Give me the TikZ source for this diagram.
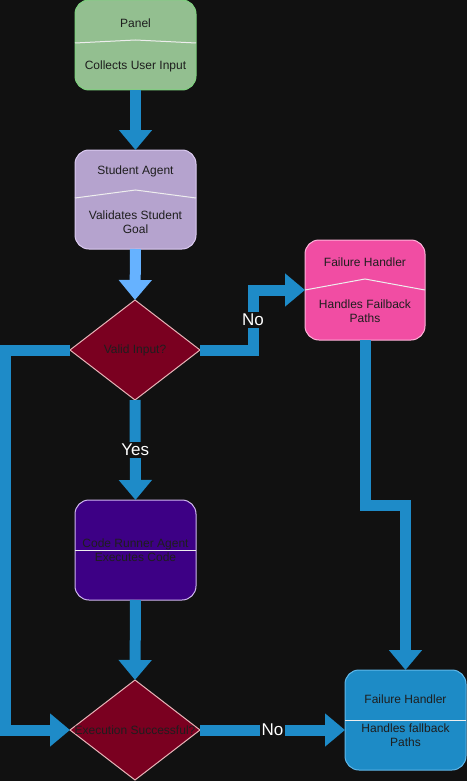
\documentclass[tikz,border=0pt]{standalone}
\usepackage{fontspec}
\setmainfont{Liberation Sans}
\usetikzlibrary{arrows.meta,shapes.geometric}
\definecolor{bg}{HTML}{111111}
\definecolor{gfill}{HTML}{93BF90}
\definecolor{gdraw}{HTML}{7FD27F}
\definecolor{lfill}{HTML}{B5A3CE}
\definecolor{ldraw}{HTML}{DCCBF2}
\definecolor{crim}{HTML}{7A0020}
\definecolor{crimb}{HTML}{E8B4B8}
\definecolor{pfill}{HTML}{F14DA3}
\definecolor{pdraw}{HTML}{FFB3D9}
\definecolor{ifill}{HTML}{3D0085}
\definecolor{idraw}{HTML}{D0B8F0}
\definecolor{bfill}{HTML}{1D8BC6}
\definecolor{bdraw}{HTML}{5FB8EA}
\definecolor{arrb}{HTML}{1E8BC8}
\definecolor{lblue}{HTML}{66B2FF}
\definecolor{txtc}{HTML}{1E1E1E}
\definecolor{divc}{HTML}{EEEEEE}
\begin{document}
\begin{tikzpicture}[x=1pt,y=-1pt,
  box/.style={rounded corners=14pt, line width=1pt, minimum width=121pt, minimum height=100pt, inner sep=0pt, outer sep=0pt},
  dia/.style={diamond, minimum width=130pt, minimum height=100pt, inner sep=0pt, outer sep=0pt, line width=1pt, fill=crim, draw=crimb},
  txt/.style={font=\fontsize{12}{14}\selectfont, text=txtc, align=center, inner sep=0pt},
  blk/.style={line width=11pt, draw=arrb, -{Triangle[width=32pt,length=20pt]}},
  lbl/.style={font=\fontsize{17}{20}\selectfont, text=white, fill=bg, inner sep=2pt},
  divl/.style={draw=divc, line width=1pt}]
\fill[bg] (0,0) rectangle (467,781);
\useasboundingbox (0,0) rectangle (467,781);

% boxes
\node[box, fill=gfill, draw=gdraw, minimum height=90pt] (panel) at (135.5,45) {};
\draw[divl] (75,43) -- (135.5,40) -- (196,43);
\node[txt] (panelT) at (135.5,23) {Panel};
\node[txt] (panelB) at (135.5,66) {Collects User Input};

\node[box, fill=lfill, draw=ldraw, minimum height=99pt] (student) at (135.5,199.5) {};
\draw[divl] (75,198) -- (135.5,190) -- (196,198);
\node[txt] (studentT) at (135.5,171) {Student Agent};
\node[txt] (studentB) at (135.5,222) {Validates Student\\Goal};

\node[dia] (valid) at (135,350) {};
\node[txt] (validT) at (135,350) {Valid Input?};

\node[box, fill=pfill, draw=pdraw, minimum width=120pt] (fh1) at (365,290) {};
\draw[divl] (305,290) -- (365,279) -- (425,290);
\node[txt] (fh1T) at (365,262) {Failure Handler};
\node[txt] (fh1B) at (365,311) {Handles Failback\\Paths};

\node[box, fill=ifill, draw=idraw] (code) at (135.5,550) {};
\draw[divl] (75,550) -- (196,550);
\node[txt] (codeT) at (135.5,550) {Code Runner Agent\\Executes Code};

\node[dia] (exec) at (135,730) {};
\node[txt] (execT) at (135,730) {Execution Successful?};

\node[box, fill=bfill, draw=bdraw] (fh2) at (405.5,720) {};
\draw[divl] (345,720) -- (466,720);
\node[txt] (fh2T) at (405.5,699) {Failure Handler};
\node[txt] (fh2B) at (405.5,735) {Handles fallback\\Paths};

% connectors
\draw[blk] (panel.south) -- (student.north);
\draw[blk, draw=lblue] (student.south) -- (valid.north);
\draw[blk] (valid.south) -- node[lbl] (yes) {Yes} (code.north);
\draw[blk] (code.south) -- (exec.north);
\draw[blk] (exec.east) -- node[lbl] (no2) {No} (exec.east -| fh2.west);
\coordinate (n1) at (253,350);
\draw[blk] (valid.east) -- (n1) |- node[lbl,pos=0.25] (no1) {No} (fh1.west);
\coordinate (l1) at (5.5,350);
\draw[blk] (valid.west) -- (l1) |- (exec.west);
\coordinate (f1) at (365,505);
\draw[blk] (fh1.south) -- (f1) -| (fh2.north);
\end{tikzpicture}
\end{document}
